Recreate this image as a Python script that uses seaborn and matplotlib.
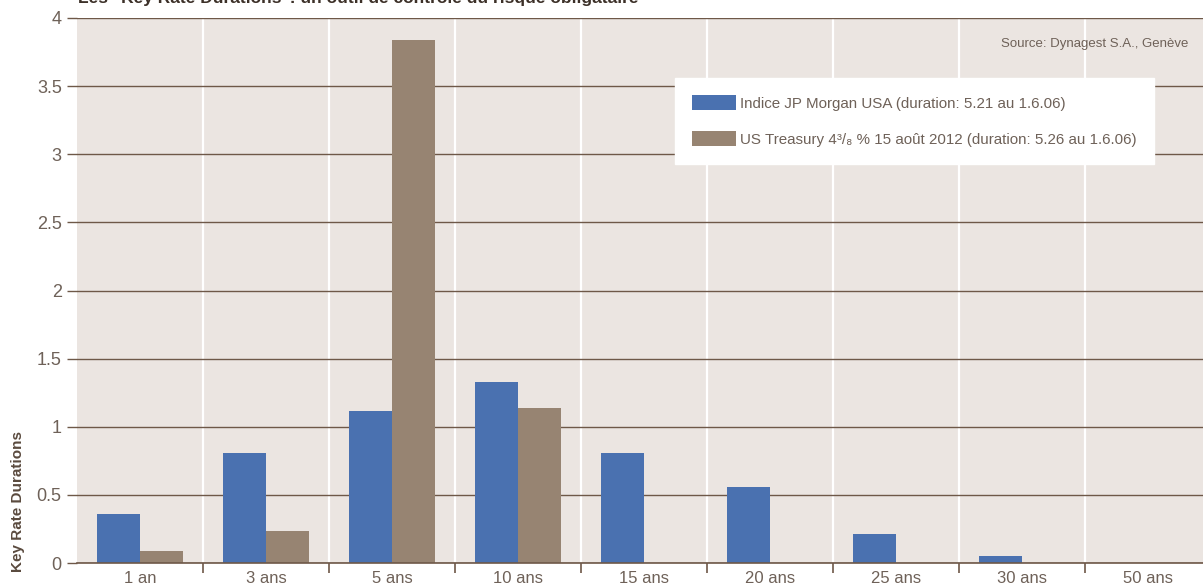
import matplotlib
matplotlib.use("Agg")
import matplotlib.pyplot as plt
import numpy as np
import pandas as pd
import seaborn as sns
from matplotlib.patches import Patch
from matplotlib.ticker import FixedLocator

maturities = ["1 an", "3 ans", "5 ans", "10 ans", "15 ans", "20 ans", "25 ans", "30 ans", "50 ans"]
jp_morgan = [0.36, 0.81, 1.115, 1.33, 0.81, 0.56, 0.215, 0.05, 0.0]
treasury = [0.088, 0.235, 3.84, 1.14, 0.0, 0.0, 0.0, 0.0, 0.0]
y_ticks = [0, 0.5, 1, 1.5, 2, 2.5, 3, 3.5, 4]
y_labels = ["0", "0.5", "1", "1.5", "2", "2.5", "3", "3.5", "4"]
series_names = [
    "Indice JP Morgan USA (duration: 5.21 au 1.6.06)",
    "US Treasury 4³/₈ % 15 août 2012 (duration: 5.26 au 1.6.06)",
]

BLUE = "#4a71b0"
BROWN = "#978472"
BG = "#ebe5e1"
GRID = "#6e5848"
TEXT = "#6e6158"

sns.set_theme(style="white")
plt.rcParams["font.family"] = ["Liberation Sans Narrow", "Liberation Sans", "DejaVu Sans"]

df = pd.DataFrame({
    "maturite": maturities * 2,
    "valeur": jp_morgan + treasury,
    "serie": [series_names[0]] * len(maturities) + [series_names[1]] * len(maturities),
})

fig = plt.figure(figsize=(12.03, 5.88), dpi=100)
# axes extends a little beyond the right edge, as in the original
ax = fig.add_axes([77 / 1203, 25 / 588, 1134 / 1203, 545 / 588])
ax.set_facecolor(BG)

sns.barplot(data=df, x="maturite", y="valeur", hue="serie", palette=[BLUE, BROWN],
            width=0.675, saturation=1, ax=ax, legend=False, linewidth=0)

ax.set_xlim(-0.5, len(maturities) - 0.5)
ax.set_ylim(0, 4)
ax.set_yticks(y_ticks, y_labels)
ax.xaxis.set_minor_locator(FixedLocator(np.arange(0.5, len(maturities) - 0.5, 1)))

ax.set_axisbelow(True)
ax.grid(axis="y", which="major", color=GRID, linewidth=1.0)
ax.grid(axis="x", which="minor", color="white", linewidth=1.6)
ax.grid(axis="x", which="major", visible=False)

for side in ["top", "right", "left"]:
    ax.spines[side].set_visible(False)
ax.spines["bottom"].set_color(GRID)
ax.spines["bottom"].set_linewidth(1.2)

ax.tick_params(axis="y", which="major", left=True, length=7, width=1, color=GRID,
               labelcolor=TEXT, labelsize=13, pad=4)
ax.tick_params(axis="x", which="major", bottom=False, labelcolor=TEXT, labelsize=12, pad=0)
ax.tick_params(axis="x", which="minor", bottom=True, length=7, width=1.2, color=GRID)

ax.set_xlabel("")
ax.set_ylabel("")
fig.text(18 / 1203, 1 - 572 / 588, "Key Rate Durations", rotation=90, fontsize=11,
         fontweight="bold", color="#5a4a3e", ha="center", va="bottom")

handles = [Patch(facecolor=BLUE, edgecolor="none"), Patch(facecolor=BROWN, edgecolor="none")]
leg = ax.legend(handles, series_names, loc="upper left",
                bbox_to_anchor=(675 / 1203, 1 - 78 / 588), bbox_transform=fig.transFigure,
                frameon=True, fancybox=False, facecolor="white", edgecolor="white",
                framealpha=1, fontsize=10.9, handlelength=2.9, handleheight=1.1,
                labelspacing=1.35, borderpad=1.15, borderaxespad=0, handletextpad=0.25)
for t in leg.get_texts():
    t.set_color(TEXT)

fig.text(1188 / 1203, 1 - 44 / 588, "Source: Dynagest S.A., Genève", ha="right",
         va="center", fontsize=9.5, color=TEXT)

# title cut off at the top edge of the image
fig.text(78 / 1203, 1 + 2 / 588, 'Les "Key Rate Durations": un outil de contrôle du risque obligataire',
         ha="left", va="center", fontsize=12.5, fontweight="bold", color="#3c3028")

fig.savefig("out.png", dpi=100)
